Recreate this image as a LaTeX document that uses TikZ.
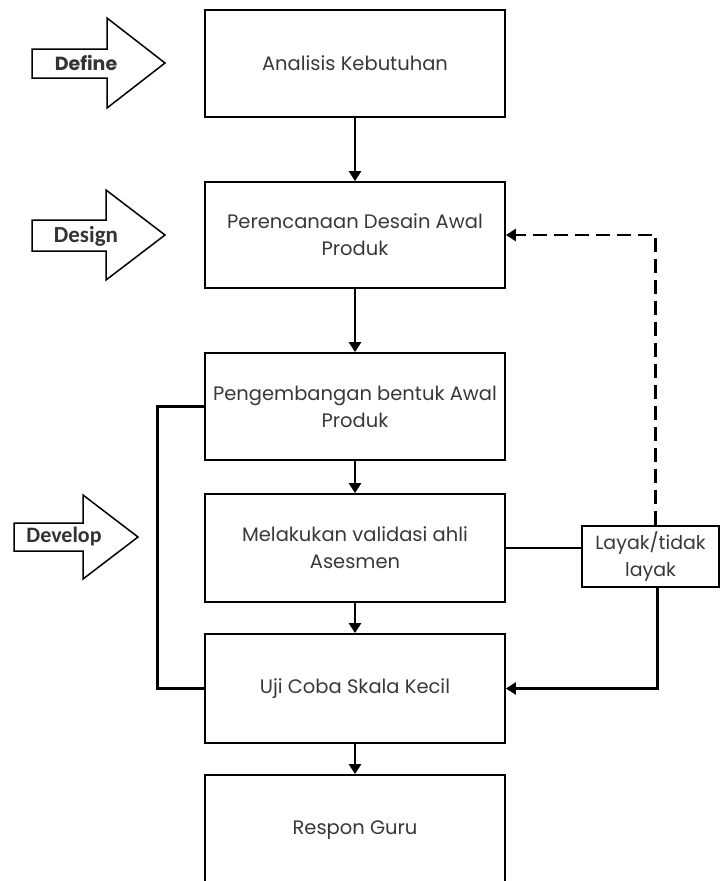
\documentclass[tikz,border=0pt]{standalone}
\usepackage{fontspec}
\setmainfont{Poppins}
\newfontfamily\calfont{Carlito}
\usetikzlibrary{arrows.meta,positioning}

\begin{document}
\begin{tikzpicture}[x=1pt,y=-1pt,
	kotak/.style={draw,line width=1.8pt,minimum width=300pt,align=center,
		font=\fontsize{19.5}{27}\selectfont,text=black!78},
	panah/.style={line width=2.8pt,-{Triangle[length=10pt,width=12pt]}},
	garis/.style={line width=2.8pt},
	blok/.style={draw,line width=1.5pt,fill=white,line join=miter}]
			%%%%% START %%%%%
			
			\clip (0,0) rectangle (722,881);
			
			% kotak utama
			\node[kotak,minimum height=107pt] (analisis) at (355,63.5) {Analisis Kebutuhan};
			\node[kotak,minimum height=106pt] (desain) at (355,235) {Perencanaan Desain Awal\\Produk};
			\node[kotak,minimum height=107pt] (bentuk) at (355,406.5) {Pengembangan bentuk Awal\\Produk};
			\node[kotak,minimum height=108pt] (validasi) at (355,548) {Melakukan validasi ahli\\Asesmen};
			\node[kotak,minimum height=109pt] (ujicoba) at (355,688.5) {Uji Coba Skala Kecil};
			\node[kotak,minimum height=110pt] (respon) at (355,830) {Respon Guru};
			
			\node[kotak,minimum width=137pt,minimum height=61pt,inner sep=0pt,font=\fontsize{19}{27}\selectfont] (layak) at (650.5,556.5) {Layak/tidak\\layak};
			
			% panah ke bawah
			\draw[panah] (analisis) -- (desain);
			\draw[panah] (desain) -- (bentuk);
			\draw[panah] (bentuk) -- (validasi);
			\draw[panah] (validasi) -- (ujicoba);
			\draw[panah] (ujicoba) -- (respon);
			
			% umpan balik
			\draw[garis] (bentuk.west) -- ++(-47,0) |- (ujicoba.west);
			\draw[garis] (validasi.east) -- (validasi.east -| layak.west);
			\draw[panah] ([xshift=7pt]layak.south) |- (ujicoba.east);
			\draw[panah,dash pattern=on 14pt off 7pt] ([xshift=5pt]layak.north) |- (desain.east);
			
			% panah blok tahap
			\draw[blok] (32,49) -- (107,49) -- (107,18) -- (165,63) -- (107,108) -- (107,78) -- (32,78) -- cycle;
			\node[font=\fontsize{19}{19}\selectfont\bfseries,text=black!80] (define) at (86,63) {Define};
			
			\draw[blok] (32,220) -- (106,220) -- (106,190) -- (165,235) -- (106,280) -- (106,251) -- (32,251) -- cycle;
			\node[font=\calfont\fontsize{23}{23}\selectfont\bfseries,text=black!80] (design) at (86,236) {Design};
			
			\draw[blok] (14,523) -- (83,523) -- (83,495) -- (138,537) -- (83,579) -- (83,551) -- (14,551) -- cycle;
			\node[font=\calfont\fontsize{22}{22}\selectfont\bfseries,text=black!80] (develop) at (64,537) {Develop};
			
			%%%%% END %%%%%
\end{tikzpicture}
\end{document}
